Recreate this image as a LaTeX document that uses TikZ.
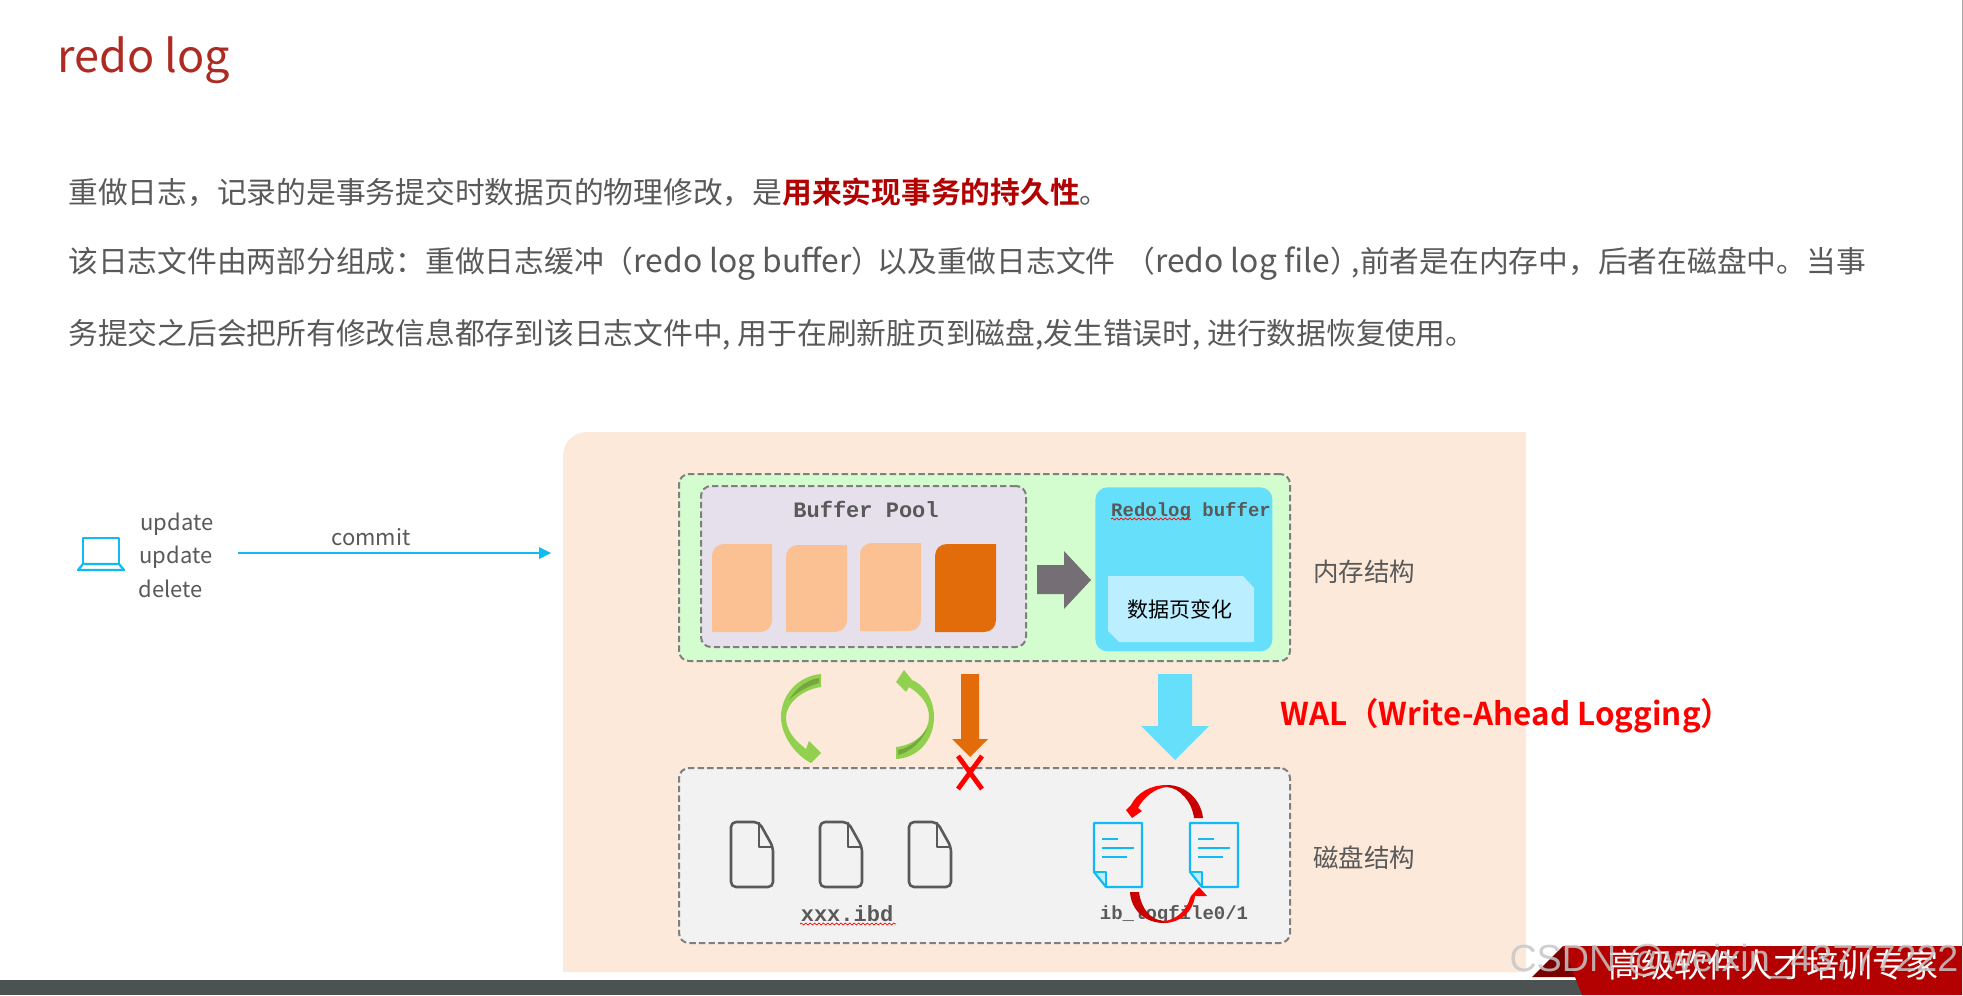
\documentclass[tikz,border=0pt]{standalone}
\usepackage{fontspec}
\usetikzlibrary{decorations.pathmorphing}
\setmainfont{Noto Sans CJK SC}
\newfontfamily\cjkbold[BoldFont={Noto Sans CJK SC Bold}]{Noto Sans CJK SC}
\newfontfamily\monofam{Liberation Mono}
\newfontfamily\wmfam{Liberation Sans}
\definecolor{txtgray}{HTML}{595959}
\definecolor{titlered}{HTML}{AE2B24}
\definecolor{peach}{HTML}{FDE9D9}
\definecolor{mint}{HTML}{D3FDCE}
\definecolor{lilac}{HTML}{E6E0EC}
\definecolor{cardl}{HTML}{FBC193}
\definecolor{cardd}{HTML}{E36C0A}
\definecolor{cyanb}{HTML}{66E0FA}
\definecolor{cyanl}{HTML}{BBEEFF}
\definecolor{arrowg}{HTML}{756F75}
\definecolor{bluel}{HTML}{0FBAF5}
\definecolor{greyb}{HTML}{F2F2F2}
\definecolor{dashg}{HTML}{7F7F7F}
\definecolor{filegray}{HTML}{595959}
\definecolor{leaf}{HTML}{92D050}
\definecolor{leafd}{HTML}{76A63F}
\definecolor{barg}{HTML}{4C5152}
\definecolor{bandred}{HTML}{B30000}
\definecolor{banddark}{HTML}{7B0000}
\definecolor{arcdark}{HTML}{C80000}
\newcommand{\px}[1]{\fontsize{\fpeval{#1*0.5}pt}{\fpeval{#1*0.6}pt}\selectfont}
\newcommand{\boxnode}[6]{%
  \pgfmathsetlengthmacro{\bw}{(#5-#3)*0.5pt}%
  \pgfmathsetlengthmacro{\bh}{(#6-#4)*0.5pt}%
  \node[#2,anchor=north west,minimum width=\bw,minimum height=\bh,inner sep=0pt] (#1) at (#3,#4) {};}
\newcommand{\cardp}[5]{% colour x1 y1 x2 y2
  \fill[#1] (#2,#5) -- (#2,#3+12) .. controls (#2,#3+5) and (#2+5,#3) .. (#2+12,#3) -- (#4,#3) -- (#4,#5-12) .. controls (#4,#5-5) and (#4-5,#5) .. (#4-12,#5) -- cycle;}
\newcommand{\grayfile}[2]{%
  \draw[filegray,line width=1.3pt,line join=round,rounded corners=2.5pt] (#1,#2) -- (#1+28,#2) -- (#1+42,#2+25) -- (#1+42,#2+65) -- (#1,#2+65) -- cycle;
  \draw[filegray,line width=1.3pt,line join=round] (#1+28,#2) -- (#1+28,#2+25) -- (#1+42,#2+25);}
\newcommand{\bluefile}[2]{%
  \fill[cyanl] (#1,#2+49) -- (#1+12,#2+49) -- (#1+12,#2+64) -- cycle;
  \draw[bluel,line width=1.1pt,line join=round] (#1,#2) -- (#1+48,#2) -- (#1+48,#2+64) -- (#1+12,#2+64) -- (#1,#2+49) -- cycle;
  \draw[bluel,line width=1.1pt,line join=round] (#1,#2+49) -- (#1+12,#2+49) -- (#1+12,#2+64);
  \draw[bluel,line width=1.3pt] (#1+8,#2+16) -- (#1+24,#2+16) (#1+8,#2+25) -- (#1+40,#2+25) (#1+8,#2+34) -- (#1+33,#2+34);}
\tikzset{
  x=0.5pt,y=-0.5pt,
  dashbox/.style={draw=dashg,line width=1pt,dash pattern=on 3.2pt off 1.6pt,rounded corners=5pt},
  para/.style={anchor=west,inner sep=0pt,text=txtgray,font=\px{29.75}},
  sidelab/.style={inner sep=0pt,text=txtgray,font=\px{25.5}},
  latinlab/.style={inner sep=0pt,text=txtgray,font=\px{22}},
  monolab/.style={inner sep=0pt,text=txtgray,font=\monofam\bfseries},
  squig/.style={draw=red,line width=0.35pt,decorate,decoration={snake,segment length=2.2pt,amplitude=0.5pt}},
}
\begin{document}
\begin{tikzpicture}
\useasboundingbox (0,0) rectangle (1963,995);
\fill[white] (0,0) rectangle (1963,995);
\draw[gray!70,line width=0.5pt] (1962.5,0) -- (1962.5,946);
% bottom bar
\fill[barg] (0,980) rectangle (1590,995);
% title and text
\node[anchor=west,inner sep=0pt,text=titlered,font=\px{45}] (title) at (57,60) {redo log};
\node[para] (p1) at (68,192) {重做日志，记录的是事务提交时数据页的物理修改，是{\cjkbold\bfseries\color{bandred}用来实现事务的持久性}。};
\node[para] (p2) at (68,264) {该日志文件由两部分组成：重做日志缓冲（{\px{31.8}redo log buffer}）\hspace{-2pt}以及重做日志文件\hspace{5pt}（{\px{31.8}redo log file}）\hspace{-4pt},前者是在内存中，后者在磁盘中。当事};
\node[para] (p3) at (68,335) {务提交之后会把所有修改信息都存到该日志文件中, 用于在刷新脏页到磁盘,发生错误时, 进行数据恢复使用。};
% peach panel
\fill[peach] (563,972) -- (563,457) .. controls (563,442) and (573,432) .. (588,432) -- (1526,432) -- (1526,972) -- cycle;
\coordinate (panel) at (551,553);
% left side
\draw[bluel,line width=1.1pt,line join=round] (83,564) -- (83,538) -- (119,538) -- (119,564) -- cycle;
\draw[bluel,line width=1.1pt,line join=round] (83,564) -- (119,564) -- (124,570) -- (78,570) -- cycle;
\coordinate (laptop) at (238,553);
\node[latinlab,anchor=west] (u1) at (140,524) {update};
\node[latinlab,anchor=west] (u2) at (139,557) {update};
\node[latinlab,anchor=west] (u3) at (138,589) {delete};
\node[latinlab,anchor=center] (commit) at (371,537) {commit};
\draw[bluel,line width=1.3pt] (laptop) -- (540,553);
\fill[bluel] (551,553) -- (539,547) -- (539,559) -- cycle;
% memory box
\boxnode{mem}{dashbox,fill=mint}{678}{473}{1289}{660}
\boxnode{pool}{dashbox,fill=lilac}{700}{485}{1025}{646}
\node[monolab,font=\monofam\bfseries\px{22}] (pooll) at (866,509) {Buffer Pool};
\cardp{cardl}{712}{544}{772}{632}
\cardp{cardl}{786}{545}{847}{632}
\cardp{cardl}{860}{543}{921}{631}
\cardp{cardd}{935}{544}{996}{632}
\fill[arrowg] (1037,565) -- (1064,565) -- (1064,551) -- (1091,580) -- (1064,609) -- (1064,594) -- (1037,594) -- cycle;
\boxnode{redo}{fill=cyanb,rounded corners=6pt}{1095}{487}{1272}{651}
\node[monolab,font=\monofam\bfseries\px{19}] (redol) at (1191,511) {Redolog buffer};
\draw[squig] (1111,519) -- (1191,519);
\fill[cyanl] (1108,576) -- (1243,576) -- (1254,588) -- (1254,642) -- (1119,642) -- (1108,631) -- cycle;
\node[inner sep=0pt,text=black,font=\px{21}] (dpage) at (1180,609) {数据页变化};
\node[sidelab] (memlab) at (1364,572) {内存结构};
% green arrows
\fill[leaf] (821,674) .. controls (798,676) and (781,695) .. (781,717) .. controls (781,735) and (795,755) .. (811,763) -- (821,753) -- (809,741) -- (806,749) .. controls (794,740) and (786,730) .. (786,717) .. controls (786,705) and (800,690) .. (821,687) -- cycle;
\fill[leafd] (819,678) .. controls (805,680) and (795,690) .. (789,700) .. controls (797,692) and (808,686) .. (819,683) -- cycle;
\fill[leaf] (904,670) -- (896,682) -- (906,692) -- (909,687) .. controls (922,695) and (929,705) .. (929,717) .. controls (929,732) and (915,745) .. (896,747) -- (896,759) .. controls (918,758) and (934,740) .. (934,717) .. controls (934,700) and (925,685) .. (912,680) -- cycle;
\fill[leafd] (898,750) .. controls (910,748) and (922,738) .. (928,727) .. controls (922,742) and (910,752) .. (898,755) -- cycle;
% big arrows
\fill[cardd] (961,674) -- (979,674) -- (979,739) -- (988,739) -- (970,757) -- (952,739) -- (961,739) -- cycle;
\fill[cyanb] (1158,674) -- (1192,674) -- (1192,726) -- (1209,726) -- (1175,760) -- (1141,726) -- (1158,726) -- cycle;
\node[anchor=west,inner sep=0pt,text=red,font=\cjkbold\bfseries\px{31.4}] (wal) at (1280,716) {WAL（Write-Ahead Logging）};
% disk box
\boxnode{disk}{dashbox,fill=greyb}{678}{767}{1289}{942}
\draw[red,line width=2.4pt] (958,756) -- (982,789) (982,756) -- (958,789);
\grayfile{731}{822}
\grayfile{820}{822}
\grayfile{909}{822}
\node[monolab,font=\monofam\bfseries\px{22}] (ibd) at (847,914) {xxx.ibd};
\draw[squig] (800,924) -- (896,924);
\node[monolab,font=\monofam\bfseries\px{19}] (ibl) at (1174,914) {ib\_logfile0/1};
\bluefile{1094}{823}
\bluefile{1190}{823}
% red arcs
\fill[arcdark] (1194,818) .. controls (1192,802) and (1180,788) .. (1167,787) -- (1167,785) .. controls (1186,785) and (1201,800) .. (1203,818) -- cycle;
\fill[red] (1167,785) .. controls (1150,785) and (1137,793) .. (1131,805) -- (1126,810) -- (1132,818) -- (1142,811) -- (1138,808) .. controls (1144,797) and (1155,788) .. (1167,787) -- cycle;
\fill[arcdark] (1139,892) .. controls (1141,908) and (1150,920) .. (1164,921) -- (1164,923) .. controls (1145,923) and (1131,910) .. (1130,892) -- cycle;
\fill[red] (1164,923) .. controls (1180,923) and (1193,912) .. (1195,896) -- (1207,896) -- (1199,887) -- (1191,896) -- (1190,898) .. controls (1187,910) and (1176,920) .. (1164,921) -- cycle;
\node[sidelab] (disklab) at (1364,858) {磁盘结构};
% ribbon
\fill[banddark] (1563,946) -- (1532,977) -- (1576,977) -- cycle;
\fill[bandred] (1563,946) -- (1962,946) -- (1962,995) -- (1582,995) -- cycle;
\node[inner sep=0pt,text=white,font=\px{33}] (brand) at (1773,965) {高级软件人才培训专家};
\node[inner sep=0pt,text=black!22,text opacity=0.85,font=\wmfam\px{37.7}] (wm) at (1734,962) {CSDN @weixin\_43777222};
\end{tikzpicture}
\end{document}
